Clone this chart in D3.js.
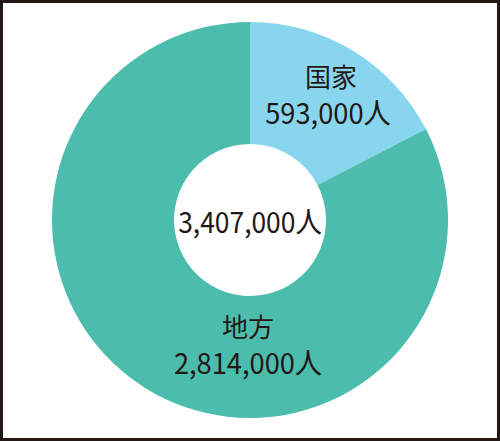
<!DOCTYPE html>
<html><head><meta charset="utf-8">
<script src="https://cdn.jsdelivr.net/npm/d3@7"></script>
<style>body{margin:0;background:#fff}svg{display:block}</style>
</head><body>
<svg id="c" width="500" height="441"></svg>
<script>
const categories = ["国家", "地方"];
const values = [593000, 2814000];
const valueLabels = ["593,000人", "2,814,000人"];
const totalLabel = "3,407,000人";
const colors = ["#87d6ee", "#4cbdad"];

const svg = d3.select("#c");
const W = 500, H = 441;
svg.append("rect").attr("x",1.5).attr("y",1.5).attr("width",W-3).attr("height",H-3)
  .attr("fill","#fff").attr("stroke","#231815").attr("stroke-width",3);

const cx = 250, cy = 220, R = 198, r = 76;
const g = svg.append("g").attr("transform",`translate(${cx},${cy})`);
const pie = d3.pie().sort(null).value(d=>d)(values);
const arc = d3.arc().innerRadius(r).outerRadius(R);
g.selectAll("path").data(pie).enter().append("path")
  .attr("d",arc).attr("fill",(d,i)=>colors[i]);

const font = "'Noto Sans CJK JP','Noto Sans CJK SC',sans-serif";
function label(x, y, txt, size, sx){
  g.append("text").attr("transform",`translate(${x},${y}) scale(${sx},1)`)
    .attr("text-anchor","middle").attr("font-family",font)
    .attr("font-size",size).attr("fill","#231815").text(txt);
}
const labelPos = [[81,-133,78,-96],[-2,117,-2,154]];
pie.forEach((d,i)=>{
  const [cxl,y1,vx,y2] = labelPos[i];
  label(cxl, y1, categories[i], 26, 1);
  label(vx, y2, valueLabels[i], 29, 0.94);
});
label(0, 13, totalLabel, 29, 0.91);
</script>
</body></html>
